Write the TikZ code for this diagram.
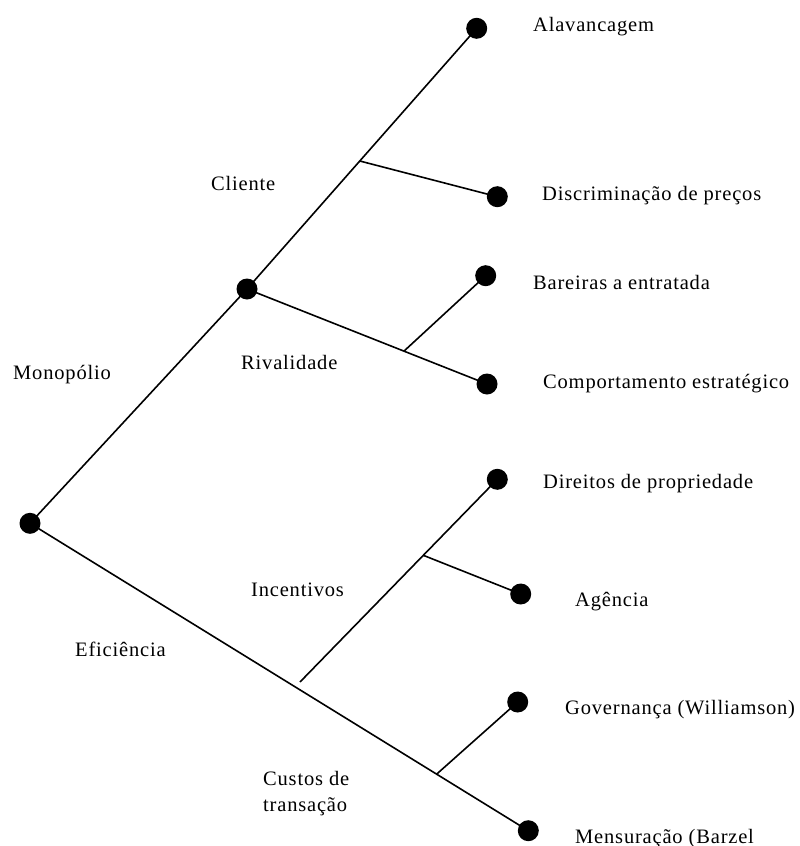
\documentclass[tikz,border=0pt]{standalone}
\usepackage{fontspec}
\usetikzlibrary{calc}
\newfontfamily\lbf[LetterSpace=4]{Liberation Serif}
\begin{document}
\begin{tikzpicture}[x=1pt,y=-1pt,
  dot/.style={circle,fill=black,draw=none,minimum size=21pt,inner sep=0pt},
  lbl/.style={anchor=base west,inner sep=0pt,font=\lbf\fontsize{20.5}{26}\selectfont},
  conn/.style={line width=1.6pt,black}]
\useasboundingbox (0,0) rectangle (800,846);
% dots
\node[dot] (root) at (30,523.3) {};
\node[dot] (riv)  at (247,289) {};
\node[dot] (alav) at (476.7,28.3) {};
\node[dot] (disc) at (497.3,196.7) {};
\node[dot] (bar)  at (485.7,275.7) {};
\node[dot] (comp) at (487,384) {};
\node[dot] (dir)  at (497.3,479.3) {};
\node[dot] (ag)   at (520.7,594) {};
\node[dot] (gov)  at (517.7,702) {};
\node[dot] (mens) at (528.3,830.7) {};
% junctions
\coordinate (jcli) at ($(riv.center)!0.491!(alav.center)$);
\coordinate (jbar) at ($(riv.center)!0.654!(comp.center)$);
\coordinate (jdir) at (300,682);
\coordinate (jag)  at ($(jdir)!0.625!(dir.center)$);
\coordinate (jgov) at ($(root.center)!0.816!(mens.center)$);
% connectors
\draw[conn] (root.center) -- (riv.center) -- (alav.center);
\draw[conn] (jcli) -- (disc.center);
\draw[conn] (riv.center) -- (comp.center);
\draw[conn] (jbar) -- (bar.center);
\draw[conn] (root.center) -- (mens.center);
\draw[conn] (jdir) -- (dir.center);
\draw[conn] (jag) -- (ag.center);
\draw[conn] (jgov) -- (gov.center);
% labels
\node[lbl] (tAlav) at (533,31.7) {Alavancagem};
\node[lbl] (tDisc) at (542,200) {Discriminação de preços};
\node[lbl] (tCli)  at (211,190) {Cliente};
\node[lbl] (tBar)  at (533,289.3) {Bareiras a entratada};
\node[lbl] (tMono) at (13,379) {Monopólio};
\node[lbl] (tRiv)  at (241,369.3) {Rivalidade};
\node[lbl] (tComp) at (543,388.3) {Comportamento estratégico};
\node[lbl] (tDir)  at (543,488) {Direitos de propriedade};
\node[lbl] (tInc)  at (251,596.5) {Incentivos};
\node[lbl] (tAg)   at (575,606) {Agência};
\node[lbl] (tEfi)  at (75,656) {Eficiência};
\node[lbl] (tGov)  at (565,714) {Governança (Williamson)};
\node[lbl] (tCus1) at (263,785) {Custos de};
\node[lbl] (tCus2) at (263,811) {transação};
\node[lbl] (tMens) at (575,843) {Mensuração (Barzel};
\end{tikzpicture}
\end{document}
